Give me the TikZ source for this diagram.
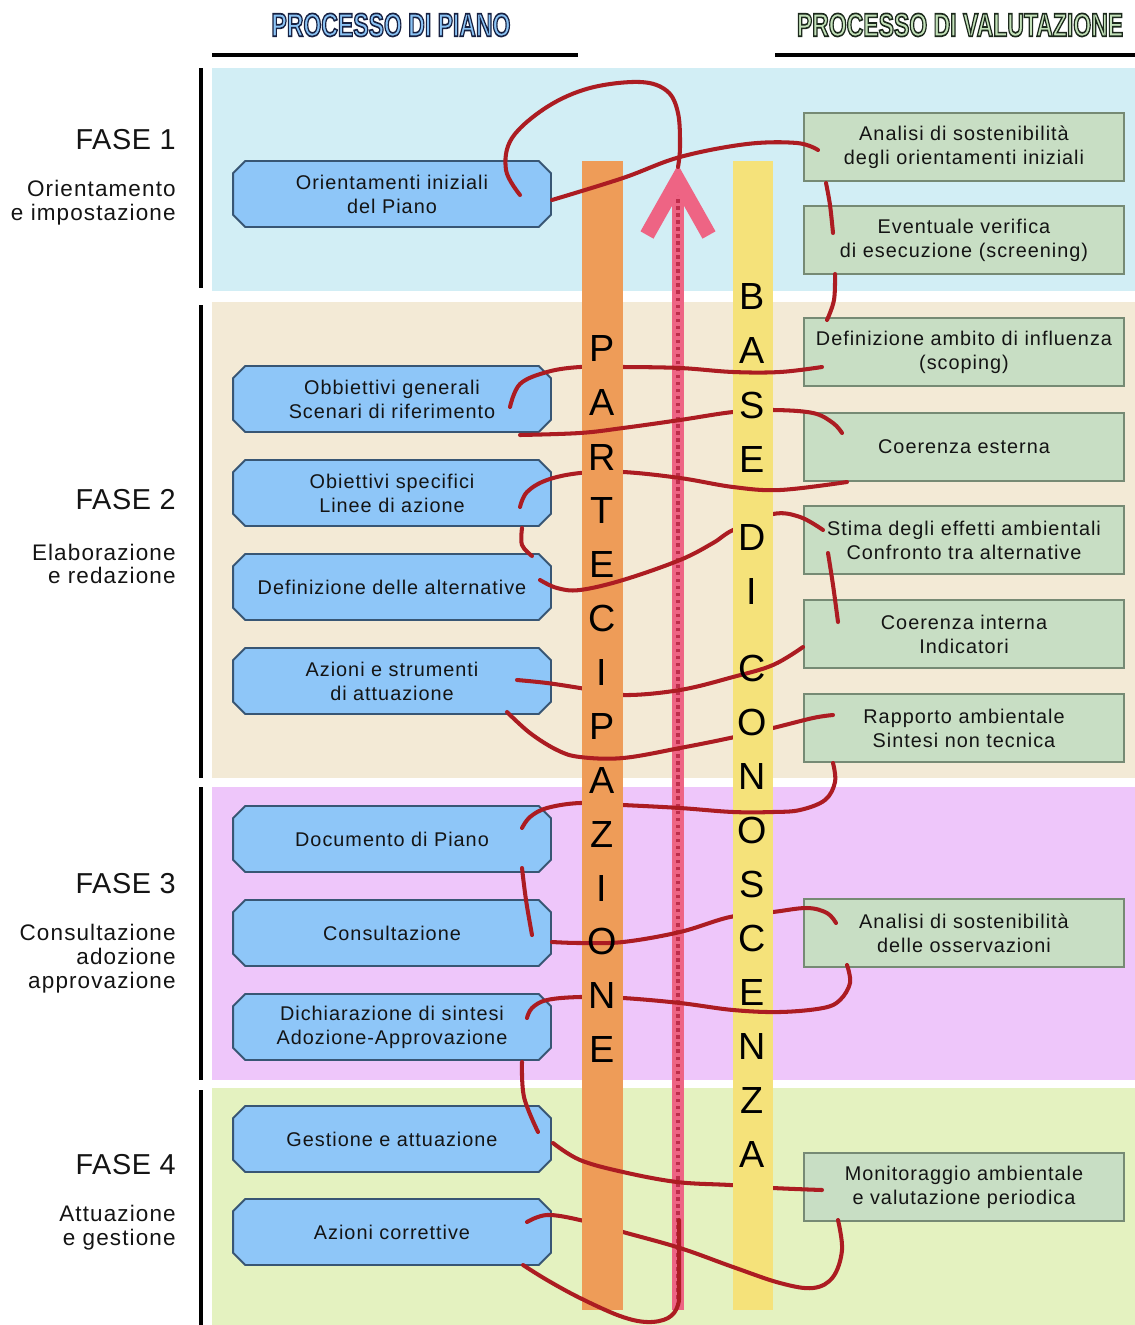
\documentclass[tikz,border=0pt]{standalone}
\usepackage{fontspec}
\usepackage{graphicx}
\setmainfont{Liberation Sans}
\newfontfamily\spfont[LetterSpace=5]{Liberation Sans}
\newfontfamily\fasefont[LetterSpace=2]{Liberation Sans}
\usetikzlibrary{shapes.misc}
\definecolor{bgA}{RGB}{210,238,245}
\definecolor{bgB}{RGB}{243,234,214}
\definecolor{bgC}{RGB}{238,198,250}
\definecolor{bgD}{RGB}{228,242,192}
\definecolor{boxblue}{RGB}{142,198,248}
\definecolor{boxblueline}{RGB}{56,86,116}
\definecolor{boxgreen}{RGB}{200,222,196}
\definecolor{boxgreenline}{RGB}{118,138,116}
\definecolor{barorange}{RGB}{238,156,88}
\definecolor{baryellow}{RGB}{245,226,122}
\definecolor{arrowpink}{RGB}{238,100,132}
\definecolor{dotred}{RGB}{190,45,75}
\definecolor{thread}{RGB}{172,28,34}
\definecolor{headblue}{RGB}{140,196,245}
\definecolor{headgreen}{RGB}{196,226,186}
\definecolor{txt}{RGB}{20,20,20}
% outlined text: fill in current colour, stroke dark
\newcommand{\outlinetext}[2]{{\special{pdf:code q 2 Tr 0.95 w #1 RG}#2\special{pdf:code Q}}}
\begin{document}
\begin{tikzpicture}[x=0.02cm,y=-0.02cm,
  planbox/.style={chamfered rectangle, chamfered rectangle xsep=0.12cm,
    draw=boxblueline, line width=1.1pt, fill=boxblue,
    minimum width=6.36cm, minimum height=1.32cm, inner sep=1pt,
    align=center, text=txt, font=\spfont\fontsize{11.3}{13.6}\selectfont},
  valbox/.style={rectangle, draw=boxgreenline, line width=1.6pt, fill=boxgreen,
    minimum width=6.4cm, minimum height=1.36cm, inner sep=1pt,
    align=center, text=txt, font=\spfont\fontsize{11.3}{13.6}\selectfont},
  fasetitle/.style={anchor=east, inner sep=0pt, text=txt, font=\fasefont\fontsize{16.4}{20}\selectfont},
  fasesub/.style={anchor=east, inner sep=0pt, align=right, text=txt, font=\spfont\fontsize{12.8}{13.6}\selectfont},
  headtxt/.style={inner sep=0pt, font=\fontsize{18.7}{20}\selectfont\bfseries},
  barletter/.style={inner sep=0pt, text=black, font=\fontsize{21.5}{24}\selectfont},
  thr/.style={draw=thread, line width=2.3pt, line cap=round, line join=round},
  blackrule/.style={line width=2.3pt, black}
]
\useasboundingbox (0,0) rectangle (1135,1325);
\fill[white] (0,0) rectangle (1135,1325);
% phase backgrounds
\fill[bgA] (212,68) rectangle (1135,291);
\fill[bgB] (212,302) rectangle (1135,778);
\fill[bgC] (212,787) rectangle (1135,1080);
\fill[bgD] (212,1088) rectangle (1135,1325);
% left rules
\draw[blackrule] (201,68) -- (201,288);
\draw[blackrule] (201,305) -- (201,778);
\draw[blackrule] (201,787) -- (201,1080);
\draw[blackrule] (201,1090) -- (201,1325);
% header rules
\draw[blackrule] (212,55) -- (578,55);
\draw[blackrule] (775,55) -- (1135,55);
% header titles (outlined)
\node[headtxt, text=headblue] (hp) at (391,25) {\scalebox{0.7}[1]{\outlinetext{0.09 0.13 0.26}{PROCESSO DI PIANO}}};
\node[headtxt, text=headgreen] (hv) at (960,25) {\scalebox{0.7}[1]{\outlinetext{0.11 0.16 0.11}{PROCESSO DI VALUTAZIONE}}};
% phase labels
\node[fasetitle] (f1) at (176,140) {FASE 1};
\node[fasesub] (f1s) at (176,203) {Orientamento\\e impostazione};
\node[fasetitle] (f2) at (176,500) {FASE 2};
\node[fasesub] (f2s) at (176,564) {Elaborazione\\e redazione};
\node[fasetitle] (f3) at (176,884) {FASE 3};
\node[fasesub] (f3s) at (176,959) {Consultazione\\adozione\\approvazione};
\node[fasetitle] (f4) at (176,1165) {FASE 4};
\node[fasesub] (f4s) at (176,1228) {Attuazione\\e gestione};
% plan boxes
\node[planbox] (p1) at (392,194) {Orientamenti iniziali\\del Piano};
\node[planbox] (p2) at (392,399) {Obbiettivi generali\\Scenari di riferimento};
\node[planbox] (p3) at (392,493) {Obiettivi specifici\\Linee di azione};
\node[planbox] (p4) at (392,587) {Definizione delle alternative};
\node[planbox] (p5) at (392,681) {Azioni e strumenti\\di attuazione};
\node[planbox] (p6) at (392,839) {Documento di Piano};
\node[planbox] (p7) at (392,933) {Consultazione};
\node[planbox] (p8) at (392,1027) {Dichiarazione di sintesi\\Adozione-Approvazione};
\node[planbox] (p9) at (392,1139) {Gestione e attuazione};
\node[planbox] (p10) at (392,1232) {Azioni correttive};
% evaluation boxes
\node[valbox] (v1) at (964,147) {Analisi di sostenibilità\\degli orientamenti iniziali};
\node[valbox] (v2) at (964,240) {Eventuale verifica\\di esecuzione (screening)};
\node[valbox] (v3) at (964,352) {Definizione ambito di influenza\\(scoping)};
\node[valbox] (v4) at (964,447) {Coerenza esterna};
\node[valbox] (v5) at (964,540) {Stima degli effetti ambientali\\Confronto tra alternative};
\node[valbox] (v6) at (964,634) {Coerenza interna\\Indicatori};
\node[valbox] (v7) at (964,728) {Rapporto ambientale\\Sintesi non tecnica};
\node[valbox] (v8) at (964,933) {Analisi di sostenibilità\\delle osservazioni};
\node[valbox] (v9) at (964,1187) {Monitoraggio ambientale\\e valutazione periodica};
% bars
\fill[barorange] (582,161) rectangle (623,1310);
\fill[baryellow] (733,161) rectangle (773,1310);
% pink arrow
\draw[arrowpink, line width=6.8pt] (678,1310) -- (678,182);
\draw[dotred, line width=2.4pt, dash pattern=on 2pt off 2pt] (678,1306) -- (678,186);
\draw[arrowpink, line width=8.5pt, line join=miter, line cap=butt] (647,235) -- (678,180) -- (709,235);
% thread
\draw[thr] plot[smooth, tension=0.6] coordinates {(520,195) (506,170) (512,138) (547,107) (590,88) (640,82) (667,91) (678,113) (680,147) (678,167)};
\draw[thr] plot[smooth, tension=0.6] coordinates {(552,200) (623,178) (680,157) (747,144) (797,143) (818,150)};
\draw[thr] plot[smooth, tension=0.6] coordinates {(826,183) (830,205) (833,233)};
\draw[thr] plot[smooth, tension=0.6] coordinates {(835,274) (834,300) (827,320)};
\draw[thr] plot[smooth, tension=0.6] coordinates {(822,367) (780,372) (733,372) (680,368) (623,367) (580,367) (547,372) (520,384) (510,407)};
\draw[thr] plot[smooth, tension=0.6] coordinates {(520,435) (580,433) (623,428) (680,420) (733,412) (773,410) (813,413) (833,423) (842,433)};
\draw[thr] plot[smooth, tension=0.6] coordinates {(847,482) (780,490) (733,487) (680,478) (623,472) (580,473) (547,480) (527,492) (520,507)};
\draw[thr] plot[smooth, tension=0.6] coordinates {(522,528) (522,545) (532,556)};
\draw[thr] plot[smooth, tension=0.6] coordinates {(540,580) (557,588) (580,590) (623,580) (680,560) (713,543) (733,530) (773,514) (800,517) (823,530)};
\draw[thr] plot[smooth, tension=0.6] coordinates {(828,553) (833,585) (838,622)};
\draw[thr] plot[smooth, tension=0.6] coordinates {(803,647) (773,665) (733,677) (680,690) (623,695) (580,688) (547,683) (517,680)};
\draw[thr] plot[smooth, tension=0.6] coordinates {(507,712) (530,733) (557,750) (580,757) (623,758) (680,748) (730,738) (773,728) (813,718) (833,715)};
\draw[thr] plot[smooth, tension=0.6] coordinates {(833,763) (835,782) (825,800) (800,810) (773,812) (733,812) (680,808) (623,805) (580,803) (547,808) (530,817) (522,828)};
\draw[thr] plot[smooth, tension=0.6] coordinates {(522,868) (526,900) (532,935)};
\draw[thr] plot[smooth, tension=0.6] coordinates {(552,942) (580,943) (623,942) (680,932) (730,917) (773,912) (807,908) (827,913) (836,923)};
\draw[thr] plot[smooth, tension=0.6] coordinates {(847,965) (850,983) (840,1000) (823,1008) (780,1012) (733,1010) (680,1003) (623,998) (580,997) (547,1000) (532,1008) (527,1018)};
\draw[thr] plot[smooth, tension=0.6] coordinates {(522,1062) (524,1097) (538,1132)};
\draw[thr] plot[smooth, tension=0.6] coordinates {(553,1143) (580,1160) (623,1172) (677,1182) (730,1185) (773,1188) (822,1190)};
\draw[thr] plot[smooth, tension=0.6] coordinates {(838,1220) (842,1250) (833,1277) (813,1288) (780,1283) (733,1267) (680,1248) (623,1232) (580,1220) (547,1215) (527,1222)};
\draw[thr] plot[smooth, tension=0.6] coordinates {(523,1265) (547,1280) (580,1298) (620,1316) (647,1322) (668,1318) (678,1305) (679,1283) (679,1220)};
% thread passing behind bars
\fill[barorange] (582,360) rectangle (623,374);
\fill[barorange] (582,465) rectangle (623,480);
\fill[barorange] (582,681) rectangle (623,702);
\fill[barorange] (582,796) rectangle (623,812);
\fill[barorange] (582,990) rectangle (623,1005);
\fill[barorange] (582,1213) rectangle (623,1239);
\fill[baryellow] (733,403) rectangle (773,419);
\fill[baryellow] (733,507) rectangle (773,537);
\fill[baryellow] (733,721) rectangle (773,745);
\fill[baryellow] (733,905) rectangle (773,924);
\fill[baryellow] (733,1178) rectangle (773,1195);
% bar letters
\foreach \l/\y [count=\k] in {P/349,A/403,R/457,T/510,E/564,C/618,I/672,P/726,A/780,Z/834,I/888,O/941,N/995,E/1049} {
  \node[barletter] (pl\k) at (602,\y) {\l};
}
\foreach \l/\y [count=\k] in {B/297,A/351,S/405,E/459,D/537,I/591,C/668,O/722,N/776,O/830,S/884,C/938,E/992,N/1046,Z/1100,A/1154} {
  \node[barletter] (bl\k) at (752,\y) {\l};
}
\end{tikzpicture}
\end{document}
